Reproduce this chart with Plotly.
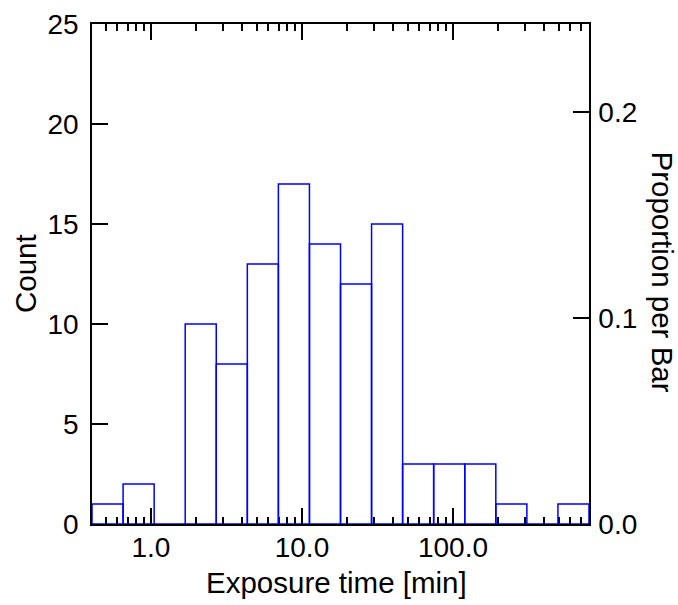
import plotly.graph_objects as go

# Histogram data (log-spaced bins, minutes)
bin_edges = [0.407, 0.654, 1.050, 1.686, 2.707, 4.347, 6.98, 11.21, 18.0,
             28.9, 46.4, 74.5, 119.7, 192.2, 308.6, 495.6, 795.8]
counts = [1, 2, 0, 10, 8, 13, 17, 14, 12, 15, 3, 3, 3, 1, 0, 1]
x_tick_vals = [1, 10, 100]
x_tick_text = ["1.0", "10.0", "100.0"]
x_minor_vals = [0.5, 0.6, 0.7, 0.8, 0.9, 2, 3, 4, 5, 6, 7, 8, 9,
                20, 30, 40, 50, 60, 70, 80, 90, 200, 300, 400, 500, 600, 700]
y_tick_vals = [0, 5, 10, 15, 20, 25]
prop_tick_vals = [0.0, 0.1, 0.2]
prop_tick_text = ["0.0", "0.1", "0.2"]

total = sum(counts)

# build outline path of histogram bars
xs, ys = [], []
for i, c in enumerate(counts):
    x0, x1 = bin_edges[i], bin_edges[i + 1]
    xs += [x0, x0, x1, x1, x0, None]
    ys += [0, c, c, 0, 0, None]

FONT = "Liberation Sans, Arial, sans-serif"
FS = 28
TS = 29.5

fig = go.Figure()
fig.add_trace(go.Scatter(x=xs, y=ys, mode="lines",
                         line=dict(color="#0000ff", width=1.5),
                         cliponaxis=False, hoverinfo="skip", showlegend=False))
# invisible trace to activate secondary axis
fig.add_trace(go.Scatter(x=[bin_edges[0]], y=[0], yaxis="y2", mode="markers",
                         marker=dict(opacity=0), showlegend=False, hoverinfo="skip"))

fig.update_layout(
    width=678, height=605,
    margin=dict(l=92, r=89, t=24, b=81),
    paper_bgcolor="white", plot_bgcolor="white",
    font=dict(family=FONT, size=FS, color="black"),
    xaxis=dict(
        type="log",
        range=[-0.3904, 2.9008],
        showgrid=False, zeroline=False,
        showline=True, linecolor="black", linewidth=1.5,
        mirror="ticks",
        ticks="inside", ticklen=16, tickwidth=1.5, tickcolor="black",
        tickmode="array", tickvals=x_tick_vals, ticktext=x_tick_text,
        tickfont=dict(size=FS),
        ticklabelstandoff=-2,
        minor=dict(ticks="inside", ticklen=7, tickwidth=1.5, tickcolor="black",
                   tickmode="array", tickvals=x_minor_vals, showgrid=False),
        layer="below traces",
        automargin=False,
    ),
    yaxis=dict(
        range=[0, 25],
        showgrid=False, zeroline=False,
        showline=True, linecolor="black", linewidth=1.5,
        ticks="inside", ticklen=16, tickwidth=1.5, tickcolor="black",
        tickmode="array", tickvals=y_tick_vals,
        tickfont=dict(size=FS),
        ticklabelstandoff=6,
        layer="below traces",
        automargin=False,
    ),
    yaxis2=dict(
        overlaying="y", side="right",
        range=[0, 25 / total],
        showgrid=False, zeroline=False,
        showline=True, linecolor="black", linewidth=1.5,
        ticks="inside", ticklen=16, tickwidth=1.5, tickcolor="black",
        tickmode="array", tickvals=prop_tick_vals, ticktext=prop_tick_text,
        tickfont=dict(size=FS),
        ticklabelstandoff=2,
        layer="below traces",
        automargin=False,
    ),
    annotations=[
        dict(text="Exposure time [min]", xref="paper", yref="paper",
             x=(336.5 - 92) / 497, y=-(582 - 524) / 500,
             xanchor="center", yanchor="middle", showarrow=False,
             font=dict(size=TS)),
        dict(text="Count", xref="paper", yref="paper",
             x=(25 - 92) / 497, y=0.5, textangle=-90,
             xanchor="center", yanchor="middle", showarrow=False,
             font=dict(size=TS)),
        dict(text="Proportion per Bar", xref="paper", yref="paper",
             x=(662 - 92) / 497, y=0.505, textangle=90,
             xanchor="center", yanchor="middle", showarrow=False,
             font=dict(size=TS)),
    ],
)

fig.write_html("out.html",
               config={"displayModeBar": False},
               post_script="document.body.style.margin='0';document.body.style.padding='0';")
